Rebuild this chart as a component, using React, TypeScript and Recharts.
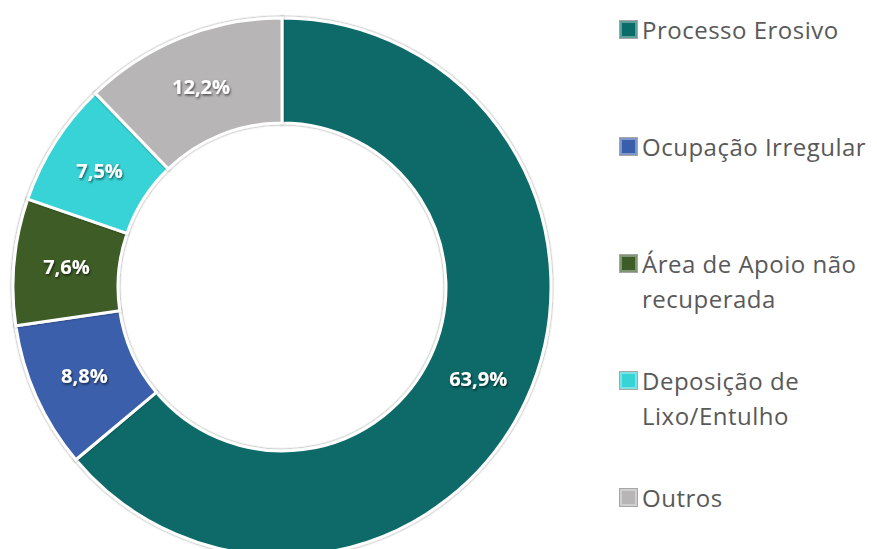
import { Cell, Legend, Pie, PieChart } from "recharts";

// Distribuição das causas (%), sentido horário a partir do topo
const CATEGORIES = [
  "Processo Erosivo",
  "Ocupação Irregular",
  "Área de Apoio não recuperada",
  "Deposição de Lixo/Entulho",
  "Outros",
];
const VALUES = [63.9, 8.8, 7.6, 7.5, 12.2];
// quebra de linha da legenda como no original
const LEGEND_LINES = [
  ["Processo Erosivo"],
  ["Ocupação Irregular"],
  ["Área de Apoio não", "recuperada"],
  ["Deposição de", "Lixo/Entulho"],
  ["Outros"],
];
const COLORS = ["#0b6b68", "#3a5faa", "#3d5c28", "#38d3d6", "#b7b5b5"];

const FONT = "'Open Sans', 'Noto Sans', sans-serif";
const RADIAN = Math.PI / 180;

const data = CATEGORIES.map((name, i) => ({ name, value: VALUES[i] }));

function renderLabel(props: any) {
  const { cx, cy, midAngle, innerRadius, outerRadius, value } = props;
  const r = (innerRadius + outerRadius) / 2;
  const x = cx + r * Math.cos(-midAngle * RADIAN);
  const y = cy + r * Math.sin(-midAngle * RADIAN);
  return (
    <text
      x={x}
      y={y}
      fill="#ffffff"
      textAnchor="middle"
      dominantBaseline="central"
      fontFamily={FONT}
      fontSize={20}
      fontWeight={700}
      filter="url(#txtShadow)"
    >
      {value.toFixed(1).replace(".", ",") + "%"}
    </text>
  );
}

function LegendContent() {
  return (
    <div style={{ fontFamily: FONT, color: "#595959", fontSize: 24, letterSpacing: 0.5 }}>
      {LEGEND_LINES.map((lines, i) => (
        <div key={i} style={{ height: 117, display: "flex", alignItems: "flex-start" }}>
          <span
            style={{
              width: 17,
              height: 17,
              marginTop: 9,
              marginRight: 5,
              flex: "none",
              background: COLORS[i],
              boxShadow: "inset 0 0 0 2px rgba(255,255,255,0.35), 0 0 0 1px #a6a6a6",
            }}
          />
          <div style={{ lineHeight: "35px" }}>
            {lines.map((l, j) => (
              <div key={j} style={{ whiteSpace: "nowrap" }}>
                {l}
              </div>
            ))}
          </div>
        </div>
      ))}
    </div>
  );
}

export default function App() {
  return (
    <div style={{ position: "absolute", left: 0, top: 0, width: 877, height: 549, background: "#fff" }}>
      <PieChart width={877} height={549} margin={{ top: 0, right: 0, bottom: 0, left: 0 }}>
        <defs>
          <filter id="sliceShadow" x="-10%" y="-10%" width="120%" height="120%">
            <feDropShadow dx="0" dy="0" stdDeviation="1.2" floodColor="#000" floodOpacity="0.55" />
          </filter>
          <filter id="txtShadow" x="-20%" y="-20%" width="140%" height="140%">
            <feDropShadow dx="1" dy="1.5" stdDeviation="1" floodColor="#000" floodOpacity="0.6" />
          </filter>
        </defs>
        <Pie
          data={data}
          dataKey="value"
          nameKey="name"
          cx={282}
          cy={287}
          innerRadius={164}
          outerRadius={269}
          startAngle={90}
          endAngle={-270}
          stroke="#ffffff"
          strokeWidth={3}
          label={renderLabel}
          labelLine={false}
          isAnimationActive={false}
        >
          {data.map((d, i) => (
            <Cell key={d.name} fill={COLORS[i]} filter="url(#sliceShadow)" />
          ))}
        </Pie>
        <Legend
          layout="vertical"
          content={<LegendContent />}
          wrapperStyle={{ position: "absolute", left: 620, top: 12, width: 257 }}
        />
      </PieChart>
    </div>
  );
}
